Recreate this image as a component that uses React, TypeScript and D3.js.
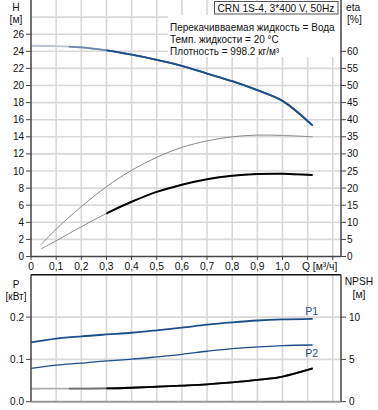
import React from "react";
import * as d3 from "d3";

const qH = [0, 0.1, 0.2, 0.3, 0.4, 0.5, 0.6, 0.7, 0.8, 0.9, 1.0, 1.12];
const headH = [24.65, 24.6, 24.45, 24.1, 23.6, 23.0, 22.3, 21.4, 20.5, 19.45, 18.2, 15.3];

const qEta = [0.04, 0.1, 0.2, 0.3, 0.4, 0.5, 0.6, 0.7, 0.8, 0.9, 1.0, 1.12];
const etaPump = [3.5, 8.0, 14.6, 20.4, 25.2, 29.0, 31.9, 33.8, 35.0, 35.5, 35.4, 35.0];
const etaTotal = [2.2, 4.6, 8.7, 12.6, 16.0, 18.9, 21.0, 22.6, 23.6, 24.1, 24.2, 23.8];

const qP = [0, 0.1, 0.2, 0.3, 0.4, 0.5, 0.6, 0.7, 0.8, 0.9, 1.0, 1.12];
const p1 = [0.14, 0.149, 0.1546, 0.159, 0.163, 0.1687, 0.175, 0.182, 0.1875, 0.192, 0.1946, 0.196];
const p2 = [0.0786, 0.0864, 0.091, 0.0965, 0.1005, 0.106, 0.112, 0.1193, 0.1256, 0.1294, 0.1327, 0.134];
const npsh = [1.53, 1.54, 1.55, 1.57, 1.65, 1.77, 1.9, 2.05, 2.28, 2.57, 2.97, 3.93];

const xTicks = [0, 0.1, 0.2, 0.3, 0.4, 0.5, 0.6, 0.7, 0.8, 0.9, 1.0];
const xGrid = [0.1, 0.2, 0.3, 0.4, 0.5, 0.6, 0.7, 0.8, 0.9, 1.0, 1.1, 1.2];
const hTicks = [0, 2, 4, 6, 8, 10, 12, 14, 16, 18, 20, 22, 24, 26];
const hGrid = [2, 4, 6, 8, 10, 12, 14, 16, 18, 20, 22, 24, 26, 28];
const etaTicks = [0, 5, 10, 15, 20, 25, 30, 35, 40, 45, 50, 55, 60];
const pTicks = [0, 0.1, 0.2];
const npshTicks = [0, 5, 10];

const infoLines = [
  "Перекачивваемая жидкость = Вода",
  "Темп. жидкости = 20 °C",
  "Плотность = 998.2 кг/м³",
];
const title = "CRN 1S-4, 3*400 V, 50Hz";

const FONT = "'Liberation Sans', Arial, sans-serif";
const BLUE = "#1d4e8a";
const GRID = "#d8d8d8";
const AXIS = "#444";
const FS = 10;

export default function App() {
  const L = 31, R = 341;
  const x = d3.scaleLinear().domain([0, 1.2326]).range([L, R]);
  const yH = d3.scaleLinear().domain([0, 30]).range([256.5, 0]);
  const yEta = d3.scaleLinear().domain([0, 75]).range([256.5, 0]);
  const yP = d3.scaleLinear().domain([0, 0.3]).range([401.7, 274.8]);
  const yN = d3.scaleLinear().domain([0, 15]).range([401.7, 274.8]);

  const mk = (xs: number[], ys: number[], sy: (v: number) => number) =>
    d3.line<number>().x((_, i) => x(xs[i])).y((v) => sy(v)).curve(d3.curveCatmullRom.alpha(0.5))(ys) || "";

  const hPath = mk(qH, headH, yH);
  const ePumpPath = mk(qEta, etaPump, yEta);
  const eTotPath = mk(qEta, etaTotal, yEta);
  const p1Path = mk(qP, p1, yP);
  const p2Path = mk(qP, p2, yP);
  const nPath = mk(qP, npsh, yN);

  const x03 = x(0.3);
  const x015 = x(0.15);

  return (
    <svg width={378} height={410} style={{ position: "absolute", left: 0, top: 0, fontFamily: FONT }}>
      <defs>
        <clipPath id="dutyR">
          <rect x={x03} y={0} width={400} height={410} />
        </clipPath>
        <clipPath id="midR">
          <rect x={x015} y={0} width={400} height={410} />
        </clipPath>
      </defs>
      <rect x={0} y={0} width={378} height={410} fill="#fff" />

      {/* top grid */}
      {xGrid.map((q) => (
        <line key={"vg" + q} x1={x(q)} x2={x(q)} y1={0} y2={yH(0)} stroke={GRID} strokeWidth={1.6} />
      ))}
      {hGrid.map((h) => (
        <line key={"hg" + h} x1={L} x2={R} y1={yH(h)} y2={yH(h)} stroke={GRID} strokeWidth={1.6} />
      ))}

      {/* info boxes */}
      <rect x={168} y={15} width={172} height={42} fill="#fff" />
      <rect x={214.5} y={1.5} width={123.5} height={12.5} fill="#fff" stroke="#555" strokeWidth={1} />
      <text x={217.5} y={11.5} fontSize={10.2} fill="#111">{title}</text>
      {infoLines.map((t, i) => (
        <text key={t} x={170} y={30.5 + i * 12} fontSize={10} fill="#111">{t}</text>
      ))}

      {/* top curves */}
      <path d={ePumpPath} fill="none" stroke="#8a8a8a" strokeWidth={1} />
      <path d={eTotPath} fill="none" stroke="#8a8a8a" strokeWidth={1} />
      <path d={eTotPath} fill="none" stroke="#000" strokeWidth={2} clipPath="url(#dutyR)" />
      <path d={hPath} fill="none" stroke="#b9c2d0" strokeWidth={1.8} />
      <path d={hPath} fill="none" stroke="#6d86a8" strokeWidth={1.8} clipPath="url(#midR)" />
      <path d={hPath} fill="none" stroke={BLUE} strokeWidth={1.8} clipPath="url(#dutyR)" />

      {/* top axes */}
      <line x1={L} x2={L} y1={0} y2={yH(0)} stroke={AXIS} strokeWidth={1.5} />
      <line x1={R} x2={R} y1={0} y2={yH(0)} stroke={AXIS} strokeWidth={1.5} />
      <line x1={L} x2={R} y1={yH(0)} y2={yH(0)} stroke={AXIS} strokeWidth={1.5} />
      {hTicks.map((h) => (
        <g key={"ht" + h}>
          <line x1={L - 5} x2={L} y1={yH(h)} y2={yH(h)} stroke={AXIS} strokeWidth={1} />
          <text x={L - 7} y={yH(h) + 3.5} fontSize={FS} textAnchor="end" fill="#111">{h}</text>
        </g>
      ))}
      {etaTicks.map((e) => (
        <g key={"et" + e}>
          <line x1={R} x2={R + 5} y1={yEta(e)} y2={yEta(e)} stroke={AXIS} strokeWidth={1} />
          <text x={R + 6} y={yEta(e) + 3.5} fontSize={FS} fill="#111">{e}</text>
        </g>
      ))}
      {xGrid.map((q) => (
        <line key={"xt" + q} x1={x(q)} x2={x(q)} y1={yH(0)} y2={yH(0) + 3.5} stroke={AXIS} strokeWidth={1} />
      ))}
      <line x1={L} x2={L} y1={yH(0)} y2={yH(0) + 3.5} stroke={AXIS} strokeWidth={1} />
      {xTicks.map((q) => (
        <text key={"xl" + q} x={x(q)} y={269.5} fontSize={10.3} textAnchor="middle" fill="#111">
          {q === 0 ? "0" : q.toFixed(1).replace(".", ",")}
        </text>
      ))}
      <text x={302} y={269.5} fontSize={10.3} fill="#111">Q [м³/ч]</text>
      <text x={16} y={11} fontSize={10.3} textAnchor="middle" fill="#111">H</text>
      <text x={16} y={23} fontSize={10.3} textAnchor="middle" fill="#111">[м]</text>
      <text x={346} y={11} fontSize={10.3} fill="#111">eta</text>
      <text x={347} y={23} fontSize={10.3} fill="#111">[%]</text>

      {/* bottom grid */}
      {xGrid.map((q) => (
        <line key={"bvg" + q} x1={x(q)} x2={x(q)} y1={yP(0.3)} y2={yP(0)} stroke={GRID} strokeWidth={1.6} />
      ))}
      {[0.1, 0.2].map((p) => (
        <line key={"bhg" + p} x1={L} x2={R} y1={yP(p)} y2={yP(p)} stroke={GRID} strokeWidth={1.6} />
      ))}

      {/* bottom curves */}
      <path d={nPath} fill="none" stroke="#b0b0b0" strokeWidth={1.8} />
      <path d={nPath} fill="none" stroke="#707070" strokeWidth={1.8} clipPath="url(#midR)" />
      <path d={nPath} fill="none" stroke="#000" strokeWidth={1.8} clipPath="url(#dutyR)" />
      <path d={p1Path} fill="none" stroke={BLUE} strokeWidth={1.8} />
      <path d={p2Path} fill="none" stroke={BLUE} strokeWidth={1.3} />
      <text x={x(1.12) - 1} y={yP(p1[p1.length - 1]) - 3.5} fontSize={10.5} textAnchor="middle" fill={BLUE}>P1</text>
      <text x={x(1.12) - 1} y={yP(p2[p2.length - 1]) + 12} fontSize={10.5} textAnchor="middle" fill={BLUE}>P2</text>

      {/* bottom axes */}
      <line x1={L} x2={R} y1={yP(0.3)} y2={yP(0.3)} stroke="#111" strokeWidth={1.5} />
      <line x1={L} x2={L} y1={yP(0.3)} y2={yP(0)} stroke={AXIS} strokeWidth={1.5} />
      <line x1={R} x2={R} y1={yP(0.3)} y2={yP(0)} stroke={AXIS} strokeWidth={1.5} />
      <line x1={L} x2={R} y1={yP(0)} y2={yP(0)} stroke="#999" strokeWidth={2} />
      {pTicks.map((p) => (
        <g key={"pt" + p}>
          <line x1={L - 5} x2={L} y1={yP(p)} y2={yP(p)} stroke={AXIS} strokeWidth={1} />
          <text x={L - 7} y={yP(p) + 3.5} fontSize={FS} textAnchor="end" fill="#111">{p.toFixed(1)}</text>
        </g>
      ))}
      {npshTicks.map((n) => (
        <g key={"nt" + n}>
          <line x1={R} x2={R + 5} y1={yN(n)} y2={yN(n)} stroke={AXIS} strokeWidth={1} />
          <text x={R + 8} y={yN(n) + 3.5} fontSize={FS} fill="#111">{n}</text>
        </g>
      ))}
      <text x={16} y={288} fontSize={10} textAnchor="middle" fill="#111">P</text>
      <text x={16} y={299.5} fontSize={10} textAnchor="middle" fill="#111">[кВт]</text>
      <text x={359} y={285} fontSize={10.3} textAnchor="middle" fill="#111">NPSH</text>
      <text x={359} y={298} fontSize={10.3} textAnchor="middle" fill="#111">[м]</text>
    </svg>
  );
}
